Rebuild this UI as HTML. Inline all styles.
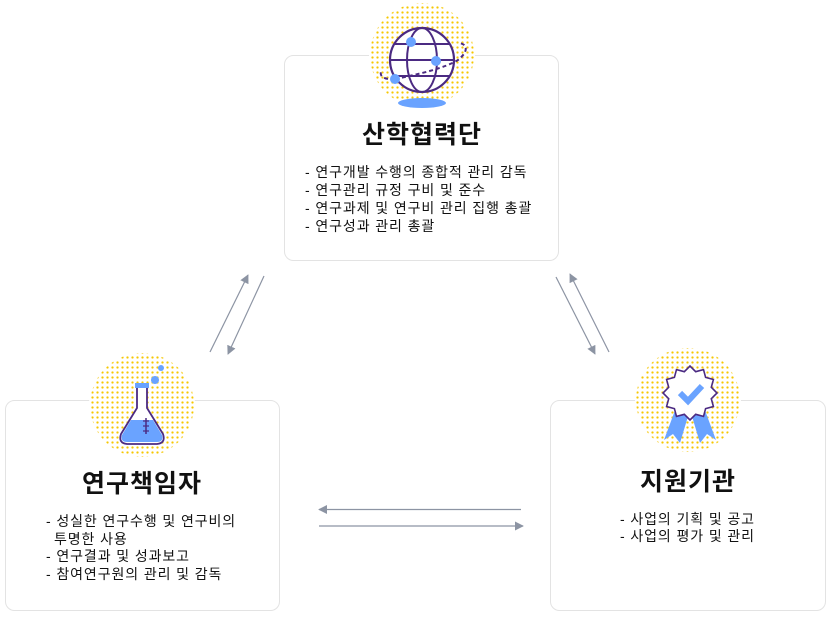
<!DOCTYPE html>
<html><head><meta charset="utf-8">
<style>
html,body{margin:0;padding:0;background:#fff;}
svg{display:block;}
text{font-family:"Liberation Sans","Noto Sans CJK KR",sans-serif;fill:#111;}
.t{font-size:25px;font-weight:700;text-anchor:middle;letter-spacing:1px;}
.b{font-size:14px;letter-spacing:0.9px;}
</style></head><body>
<svg width="828" height="620" viewBox="0 0 828 620" xmlns="http://www.w3.org/2000/svg">
<defs>
<pattern id="dots" width="5" height="5" patternUnits="userSpaceOnUse">
<circle cx="2.5" cy="2.5" r="1.15" fill="#f6c700"/>
</pattern>
<marker id="ah" viewBox="0 0 10 10" refX="9" refY="5" markerWidth="9" markerHeight="9" markerUnits="userSpaceOnUse" orient="auto">
<path d="M0,0 L10,5 L0,10 z" fill="#8c94a3"/>
</marker>
</defs>

<rect x="284.5" y="55.5" width="274" height="205" rx="9" fill="#fff" stroke="#e3e3e3"/>
<rect x="5.5" y="400.5" width="274" height="210" rx="9" fill="#fff" stroke="#e3e3e3"/>
<rect x="550.5" y="400.5" width="275" height="210" rx="9" fill="#fff" stroke="#e3e3e3"/>

<circle cx="422" cy="55" r="53" fill="#fff"/>
<circle cx="422" cy="55" r="52" fill="url(#dots)"/>
<circle cx="142" cy="405" r="53" fill="#fff"/>
<circle cx="142" cy="405" r="52" fill="url(#dots)"/>
<circle cx="688" cy="400" r="53" fill="#fff"/>
<circle cx="688" cy="400" r="52" fill="url(#dots)"/>

<!-- globe -->
<ellipse cx="422" cy="103" rx="24" ry="5" fill="#6aa3ff"/>
<circle cx="422" cy="60" r="32" fill="#fff" stroke="#4b2a82" stroke-width="2.2"/>
<ellipse cx="422" cy="60" rx="15" ry="32" fill="none" stroke="#4b2a82" stroke-width="2"/>
<line x1="394" y1="44" x2="450" y2="44" stroke="#4b2a82" stroke-width="2"/>
<line x1="390" y1="60" x2="454" y2="60" stroke="#4b2a82" stroke-width="2"/>
<line x1="394" y1="76" x2="450" y2="76" stroke="#4b2a82" stroke-width="2"/>
<path d="M395,79 C384,80 378,76 382,70 M395,79 C420,74 445,68 458,60 C468,52 468,45 460,43" fill="none" stroke="#4b2a82" stroke-width="2" stroke-dasharray="4,3"/>
<circle cx="411" cy="42" r="5" fill="#6aa3ff"/>
<circle cx="436" cy="61" r="5" fill="#6aa3ff"/>
<circle cx="395" cy="79" r="5" fill="#6aa3ff"/>

<!-- flask -->
<circle cx="161" cy="368" r="3" fill="#6aa3ff"/>
<circle cx="155" cy="380" r="4" fill="#6aa3ff"/>
<rect x="135" y="383" width="14" height="5" fill="#6aa3ff"/>
<path d="M137,388 L137,408 L121,434 Q118,443 127,444 L157,444 Q166,443 163,434 L147,408 L147,388" fill="#fff" stroke="#4b2a82" stroke-width="1.8"/>
<path d="M131,420 L153,420 L162,435 Q164,442 157,442 L127,442 Q120,442 122,435 Z" fill="#6aa3ff"/>
<line x1="146" y1="418" x2="146" y2="434" stroke="#4b2a82" stroke-width="1.5"/>
<line x1="143" y1="421" x2="149" y2="421" stroke="#4b2a82" stroke-width="1.2"/>
<line x1="143" y1="426" x2="149" y2="426" stroke="#4b2a82" stroke-width="1.2"/>
<line x1="143" y1="431" x2="149" y2="431" stroke="#4b2a82" stroke-width="1.2"/>

<!-- badge -->
<polygon points="677,405 689,413 680,443 673,434 664,440" fill="#6aa3ff"/>
<polygon points="703,405 691,413 700,443 707,434 716,440" fill="#6aa3ff"/>
<polygon points="717,393 711.3,398.7 713.4,406.5 705.6,408.6 703.5,416.4 695.7,414.3 690,420 684.3,414.3 676.5,416.4 674.4,408.6 666.6,406.5 668.7,398.7 663,393 668.7,387.3 666.6,379.5 674.4,377.4 676.5,369.6 684.3,371.7 690,366 695.7,371.7 703.5,369.6 705.6,377.4 713.4,379.5 711.3,387.3" fill="#fff" stroke="#4b2a82" stroke-width="1.6"/>
<path d="M680,393 L688,401 L702,386" fill="none" stroke="#6aa3ff" stroke-width="6"/>

<text class="t" x="422" y="143">산학협력단</text>
<text class="t" x="142" y="492">연구책임자</text>
<text class="t" x="688" y="490">지원기관</text>

<text class="b" x="305" y="177">- 연구개발 수행의 종합적 관리 감독</text>
<text class="b" x="305" y="195">- 연구관리 규정 구비 및 준수</text>
<text class="b" x="305" y="213">- 연구과제 및 연구비 관리 집행 총괄</text>
<text class="b" x="305" y="231">- 연구성과 관리 총괄</text>

<text class="b" x="46" y="526">- 성실한 연구수행 및 연구비의</text>
<text class="b" x="54" y="544">투명한 사용</text>
<text class="b" x="46" y="561">- 연구결과 및 성과보고</text>
<text class="b" x="46" y="579">- 참여연구원의 관리 및 감독</text>

<text class="b" x="620" y="524">- 사업의 기획 및 공고</text>
<text class="b" x="620" y="541">- 사업의 평가 및 관리</text>

<g stroke="#8c94a3" stroke-width="1.2" fill="none" marker-end="url(#ah)">
<line x1="210" y1="352" x2="248" y2="275"/>
<line x1="264" y1="276" x2="228" y2="354"/>
<line x1="556" y1="277" x2="595" y2="354"/>
<line x1="609" y1="352" x2="570" y2="274"/>
<line x1="521" y1="509.5" x2="319" y2="509.5"/>
<line x1="319" y1="526" x2="523" y2="526"/>
</g>
</svg>
</body></html>
